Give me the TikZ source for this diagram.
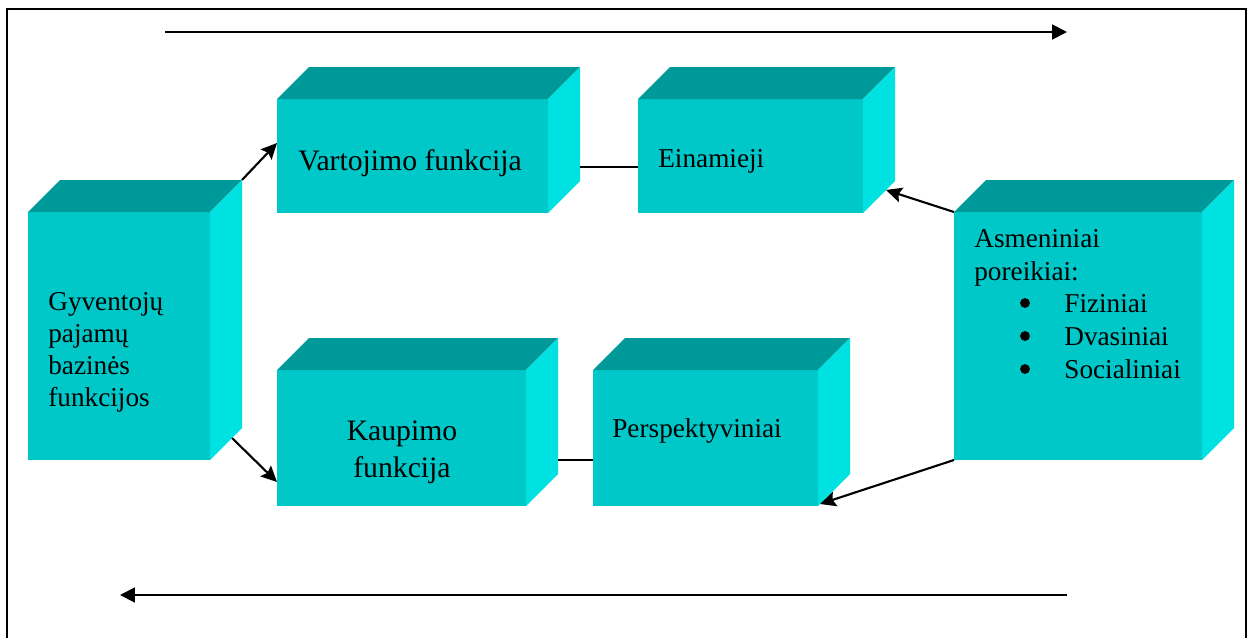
\documentclass[tikz,border=0pt]{standalone}
\usepackage{fontspec}
\setmainfont{Liberation Serif}
\usetikzlibrary{arrows.meta,calc,fit}
\definecolor{cfront}{HTML}{00C8C8}
\definecolor{ctop}{HTML}{009999}
\definecolor{cside}{HTML}{00E1E1}
\newcommand\fBig{\fontsize{16.9pt}{20.8pt}\selectfont}
\newcommand\fSmall{\fontsize{15.5pt}{18.5pt}\selectfont}
\newcommand\cuboid[5]{%
  \node[frontface, fit={(#2,#3) (#4,#5)}] (#1) {};
  \fill[ctop] (#1.north west) -- ++(32,-32) -- ($(#1.north east)+(32,-32)$) -- (#1.north east) -- cycle;
  \fill[cside] (#1.north east) -- ++(32,-32) -- ($(#1.south east)+(32,-32)$) -- (#1.south east) -- cycle;
}
\begin{document}
\begin{tikzpicture}[x=0.02cm,y=-0.02cm,
  frontface/.style={fill=cfront,inner sep=0pt,outer sep=0pt},
  arr/.style={line width=1.1pt,-{Triangle[length=8.5pt,width=8.5pt]}},
  darr/.style={line width=1.2pt,-{Stealth[length=9pt,width=8.5pt,inset=1.5pt]}},
  link/.style={line width=0.9pt},
  txt/.style={inner sep=0pt,anchor=base west,font=\fSmall},
  btxt/.style={inner sep=0pt,anchor=base,font=\fBig},
  bul/.style={circle,fill=black,inner sep=0pt,minimum size=5.6pt}]
\useasboundingbox (0,0) rectangle (1248,637);
% frame
\draw[line width=1.2pt] (7,660) -- (7,9) -- (1246,9) -- (1246,660);
% boxes
\cuboid{gyv}{28}{212}{210}{460}
\cuboid{vart}{277}{99}{548}{213}
\cuboid{einam}{638}{99}{863}{213}
\cuboid{kaup}{277}{370}{526}{506}
\cuboid{persp}{593}{370}{818}{506}
\cuboid{asm}{954}{212}{1202}{460}
% texts
\node[txt] (g1) at (48,310) {Gyventojų};
\node[txt] (g2) at (48,342) {pajamų};
\node[txt] (g3) at (48,374) {bazinės};
\node[txt] (g4) at (48,406) {funkcijos};
\node[txt,font=\fBig] (v1) at (298,170) {Vartojimo funkcija};
\node[txt] (e1) at (658,167) {Einamieji};
\node[btxt] (k1) at (402,440) {Kaupimo};
\node[btxt] (k2) at (402,477) {funkcija};
\node[txt] (p1) at (612,437) {Perspektyviniai};
\node[txt] (a1) at (974,247) {Asmeniniai};
\node[txt] (a2) at (974,280) {poreikiai:};
\node[bul] (b1) at (1025,303) {};
\node[bul] (b2) at (1025,336) {};
\node[bul] (b3) at (1025,369) {};
\node[txt] (a3) at (1064,312) {Fiziniai};
\node[txt] (a4) at (1064,345) {Dvasiniai};
\node[txt] (a5) at (1064,378) {Socialiniai};
% connectors
\draw[darr] ($(gyv.north east)+(32,-32)$) -- ($(vart.west)+(0,-13)$);
\draw[darr] ($(gyv.south east)+(22,-22)$) -- ($(kaup.west)+(0,44)$);
\draw[link] ($(vart.east)+(32,11)$) -- ($(einam.west)+(0,11)$);
\draw[link] ($(kaup.east)+(32,22)$) -- ($(persp.west)+(0,22)$);
\draw[darr] (asm.north west) -- ($(einam.south east)+(23,-23)$);
\draw[darr] (asm.south west) -- ($(persp.south east)+(2,-2)$);
% long arrows
\coordinate (t1) at (165,32);
\coordinate (t2) at (1067,32);
\coordinate (u1) at (1067,595);
\coordinate (u2) at (120,595);
\draw[arr] (t1) -- (t2);
\draw[arr] (u1) -- (u2);
\end{tikzpicture}
\end{document}
